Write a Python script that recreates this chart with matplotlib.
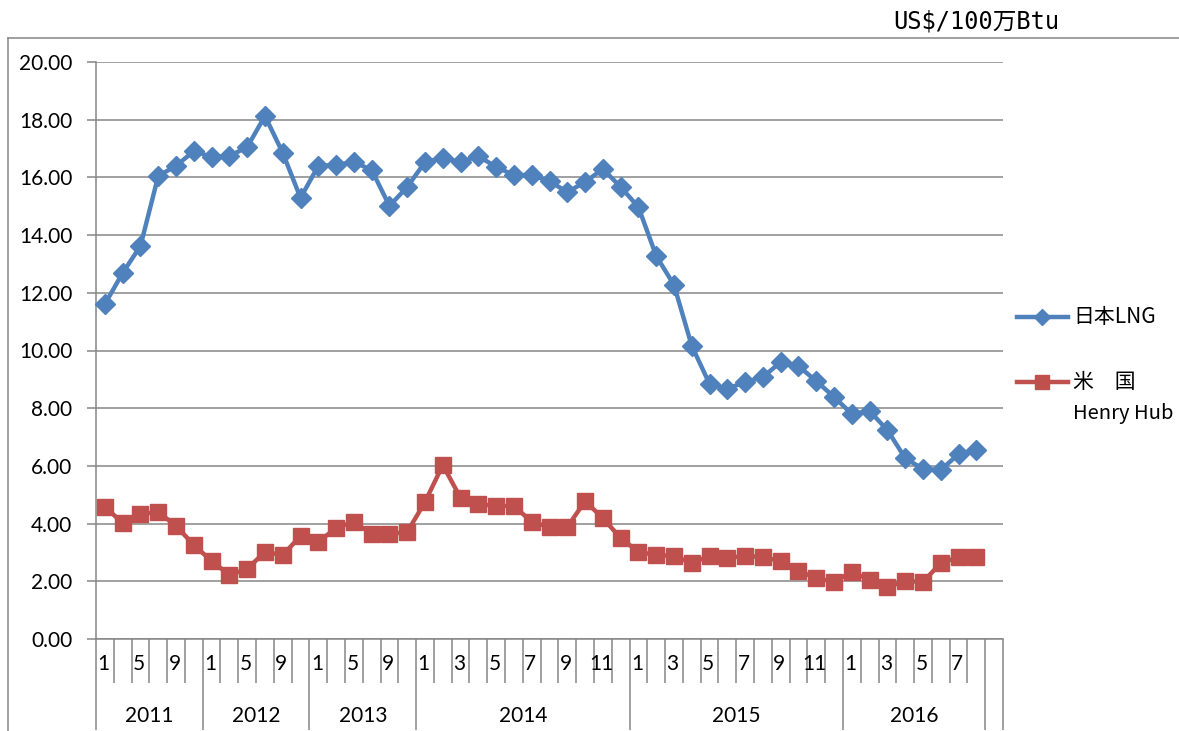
import matplotlib
matplotlib.use("Agg")
import matplotlib.pyplot as plt
from matplotlib.lines import Line2D
import numpy as np

# ---- data ----
years = ["2011", "2012", "2013", "2014", "2015", "2016", ""]
year_months = [
    [1, 3, 5, 7, 9, 11],
    [1, 3, 5, 7, 9, 11],
    [1, 3, 5, 7, 9, 11],
    [1, 2, 3, 4, 5, 6, 7, 8, 9, 10, 11, 12],
    [1, 2, 3, 4, 5, 6, 7, 8, 9, 10, 11, 12],
    [1, 2, 3, 4, 5, 6, 7, 8],
    [None],
]
japan_lng = [
    11.61, 12.69, 13.62, 16.05, 16.40, 16.91,
    16.71, 16.74, 17.05, 18.13, 16.85, 15.29,
    16.40, 16.43, 16.53, 16.26, 15.01, 15.67,
    16.53, 16.67, 16.53, 16.74, 16.36, 16.08, 16.08, 15.87, 15.49, 15.84, 16.29, 15.67,
    14.97, 13.28, 12.27, 10.16, 8.84, 8.67, 8.91, 9.08, 9.60, 9.46, 8.94, 8.39,
    7.80, 7.90, 7.24, 6.27, 5.89, 5.86, 6.41, 6.55,
]
henry_hub = [
    4.58, 4.02, 4.33, 4.40, 3.92, 3.26,
    2.70, 2.22, 2.43, 3.02, 2.91, 3.57,
    3.36, 3.85, 4.06, 3.64, 3.64, 3.71,
    4.75, 6.03, 4.89, 4.68, 4.61, 4.61, 4.06, 3.88, 3.88, 4.78, 4.19, 3.50,
    3.02, 2.91, 2.88, 2.63, 2.88, 2.81, 2.88, 2.84, 2.70, 2.36, 2.11, 1.98,
    2.32, 2.05, 1.80, 2.01, 1.98, 2.63, 2.84, 2.84,
]
series_names = ["日本LNG", "米　国\nHenry Hub"]
unit_label = "US$/100万Btu"
y_ticks = [0, 2, 4, 6, 8, 10, 12, 14, 16, 18, 20]

# ---- style ----
BLUE = "#4F81BD"
RED = "#C0504D"
GRID = "#868686"
W, H = 1179, 731
num_font = "Lato"
jp_font = ["Noto Sans CJK JP", "DejaVu Sans"]
unit_font = ["DejaVu Sans Mono", "Noto Sans CJK JP"]
FS = 15

fig = plt.figure(figsize=(W / 100, H / 100), dpi=100)
fig.patch.set_facecolor("white")

def fx(px):
    return px / W

def fy(py):
    return 1 - py / H

ax = fig.add_axes([fx(96), fy(639), fx(1003) - fx(96), fy(62) - fy(639)])

n_cat = sum(len(m) for m in year_months)
x_lng = np.arange(len(japan_lng))
x_hh = np.arange(len(henry_hub))

ax.plot(x_lng, japan_lng, color=BLUE, lw=3.2, marker="D", ms=10.5,
        mec=BLUE, mfc=BLUE, zorder=4, clip_on=False)
ax.plot(x_hh, henry_hub, color=RED, lw=3.2, marker="s", ms=12,
        mec=RED, mfc=RED, zorder=3, clip_on=False)

ax.set_xlim(-0.5, n_cat - 0.5)
ax.set_ylim(0, 20)
ax.set_yticks(y_ticks)
ax.set_yticklabels([f"{v:.2f}" for v in y_ticks], fontfamily=num_font, fontsize=FS)
ax.yaxis.grid(True, color=GRID, lw=1.1)
ax.set_axisbelow(True)

for s in ["top", "right"]:
    ax.spines[s].set_visible(False)
for s in ["left", "bottom"]:
    ax.spines[s].set_color(GRID)
    ax.spines[s].set_linewidth(1.1)

ax.tick_params(axis="y", length=6.5, width=1.1, color=GRID, pad=10.5, labelcolor="black")

# x axis: multi-level categories
boundaries = np.arange(n_cat + 1) - 0.5
year_bounds = [-0.5]
for m in year_months:
    year_bounds.append(year_bounds[-1] + len(m))
minor_b = [b for b in boundaries if b not in year_bounds]
ax.set_xticks(year_bounds)
ax.set_xticklabels([])
ax.set_xticks(minor_b, minor=True)
ax.tick_params(axis="x", which="major", length=65.5, width=1.1, color=GRID)
ax.tick_params(axis="x", which="minor", length=31.7, width=1.1, color=GRID)

xt = ax.get_xaxis_transform()
idx = 0
for yi, (yr, months) in enumerate(zip(years, year_months)):
    start = idx
    for m in months:
        if idx % 2 == 0 and m is not None:
            ax.annotate(str(m), xy=(idx, 0), xycoords=xt, xytext=(-1, -18),
                        textcoords="offset points", ha="center", va="center",
                        fontfamily=num_font, fontsize=FS, annotation_clip=False)
        idx += 1
    if yr:
        ax.annotate(yr, xy=((start + idx - 1) / 2, 0), xycoords=xt, xytext=(0, -55.5),
                    textcoords="offset points", ha="center", va="center",
                    fontfamily=num_font, fontsize=FS, annotation_clip=False)

# chart border (left and top)
fig.add_artist(Line2D([fx(8), fx(8)], [fy(38), 0], color=GRID, lw=1.1))
fig.add_artist(Line2D([fx(8), 1], [fy(38), fy(38)], color=GRID, lw=1.1))

# unit label
fig.text(fx(893), fy(22), unit_label, fontfamily=unit_font, fontsize=17,
         ha="left", va="center")

# legend (manual)
for ypx, color, mk, ms in [(317, BLUE, "D", 10.5), (382, RED, "s", 12)]:
    fig.add_artist(Line2D([fx(1017), fx(1042), fx(1068)], [fy(ypx)] * 3, color=color,
                          lw=3.2, marker=mk, ms=ms * 0.8, markevery=[1],
                          mec=color, mfc=color))
fig.text(fx(1073), fy(317), series_names[0], fontfamily=jp_font, fontsize=15,
         ha="left", va="center")
name1, name2 = series_names[1].split("\n")
fig.text(fx(1073), fy(382), name1, fontfamily=jp_font, fontsize=15,
         ha="left", va="center")
fig.text(fx(1073), fy(414), name2, fontfamily=jp_font, fontsize=14.5,
         ha="left", va="center")

fig.savefig("out.png", dpi=100)
